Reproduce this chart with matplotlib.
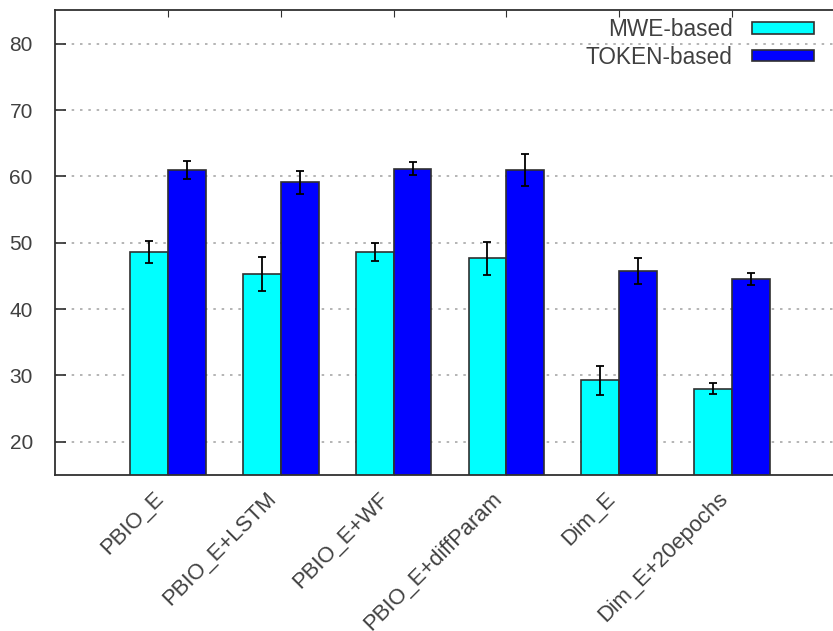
import matplotlib.pyplot as plt
import numpy as np

plt.rcParams['font.family'] = ['Liberation Sans', 'DejaVu Sans']

methods = ["PBIO_E", "PBIO_E+LSTM", "PBIO_E+WF", "PBIO_E+diffParam",
           "Dim_E", "Dim_E+20epochs"]
mwe_scores = [48.6, 45.3, 48.6, 47.7, 29.3, 28.0]
mwe_err = [1.7, 2.6, 1.3, 2.5, 2.2, 0.85]
token_scores = [61.0, 59.1, 61.2, 61.0, 45.8, 44.5]
token_err = [1.4, 1.7, 0.95, 2.4, 1.95, 0.9]

text_col = "#404040"
edge_col = "#303030"

fig = plt.figure(figsize=(8.33, 6.31), dpi=100)
# the plot frame runs past the right edge of the image
ax = fig.add_axes([55 / 833, 1 - 475 / 631, 790 / 833, 465 / 631])

x = np.arange(len(methods))
w = 0.336
ax.bar(x - w, mwe_scores, w, align="edge", color="#00ffff",
       edgecolor=edge_col, linewidth=1.2, label="MWE-based", zorder=2)
ax.bar(x, token_scores, w, align="edge", color="#0000ff",
       edgecolor=edge_col, linewidth=1.2, label="TOKEN-based", zorder=2)
ax.errorbar(x - w / 2, mwe_scores, yerr=mwe_err, fmt="none", ecolor="black",
            elinewidth=1.3, capsize=2.6, capthick=1.3, zorder=3)
ax.errorbar(x + w / 2, token_scores, yerr=token_err, fmt="none", ecolor="black",
            elinewidth=1.3, capsize=2.6, capthick=1.3, zorder=3)

ax.set_xlim(-1, 6)
ax.set_ylim(15, 85.1)
ax.set_yticks(np.arange(20, 81, 10))
ax.yaxis.grid(True, color="#a8a8a8", linestyle=(0, (1.5, 3.5)), linewidth=1.2,
              zorder=0)
ax.set_axisbelow(True)

ax.set_xticks(x)
ax.set_xticklabels(methods, rotation=45, ha="right", va="bottom",
                   rotation_mode="anchor", fontsize=15.8, color=text_col)
ax.tick_params(axis="x", direction="in", length=5, top=True, bottom=True,
               pad=20, color=edge_col)
ax.tick_params(axis="y", direction="in", length=8, width=1.2, pad=16,
               labelsize=15, labelcolor=text_col, color=edge_col)
for s in ax.spines.values():
    s.set_color(edge_col)
    s.set_linewidth(1.3)

leg = ax.legend(loc="upper right", bbox_to_anchor=(814 / 833, 1 - 18 / 631),
                bbox_transform=fig.transFigure, frameon=False,
                markerfirst=False, fontsize=16.3, handlelength=2.75,
                handleheight=0.4, labelspacing=0.2, handletextpad=0.85,
                borderpad=0, borderaxespad=0)
for t in leg.get_texts():
    t.set_color(text_col)

fig.savefig("out.png", dpi=100)
